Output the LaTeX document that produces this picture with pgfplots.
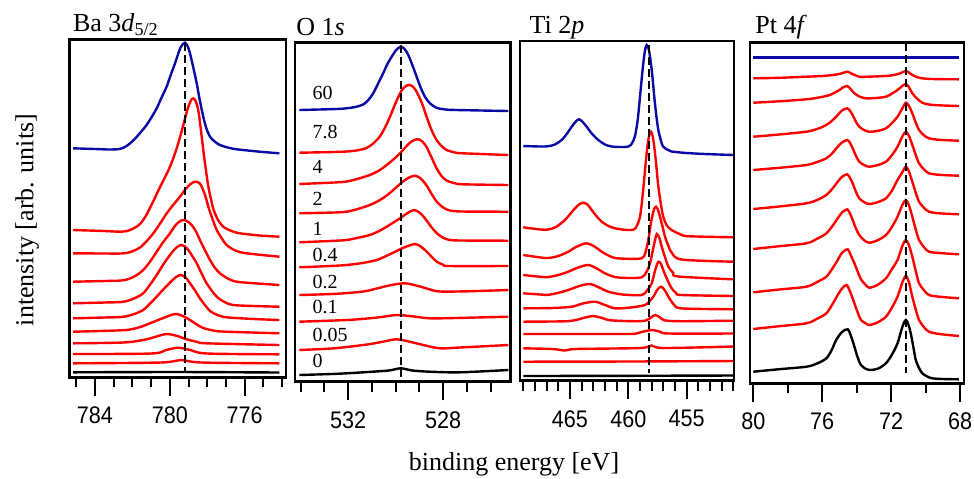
\documentclass[border=0pt]{standalone}
\usepackage{fontspec}
\setmainfont{Liberation Serif}
\newfontfamily\ticksf[FakeStretch=0.9]{Liberation Sans}
\usepackage{pgfplots}
\pgfplotsset{compat=1.18}
\definecolor{navy}{RGB}{10,10,165}
\pgfplotsset{panel/.style={
  scale only axis, x dir=reverse, y dir=reverse,
  axis line style={line width=1.3pt},
  ytick=\empty, xtick pos=bottom, tick align=outside,
  major tick length=9.25pt, minor tick length=5pt,
  tick style={line width=1pt, black},
  xticklabel style={font=\ticksf\fontsize{12}{12}\selectfont, yshift=-2pt},
  /pgf/number format/assume math mode=true,
  /pgf/number format/1000 sep={},
  every axis plot/.append style={line width=1.2pt, smooth, no markers},
}}
\begin{document}
\begin{tikzpicture}
\useasboundingbox (0,0) rectangle (487pt,-239pt);
% ---------------- Ba 3d5/2
\begin{axis}[panel, at={(34.65pt,-188.65pt)}, anchor=south west,
  width=108.35pt, height=169pt,
  xmin=773.79, xmax=785.37, ymin=39.3, ymax=377.3,
  xtick={784,780,776}, minor xtick={774,775,...,785}]
\addplot[navy] coordinates {(785.16,148.3) (784.0,149.0) (783.2,149.5) (782.7,149) (782.4,147) (782.1,143) (781.8,137.5) (781.5,131) (781.24,125) (781.0,118) (780.7,108.3) (780.45,98) (780.17,86.7) (779.95,75) (779.72,63.3) (779.5,51) (779.36,45.5) (779.19,42.7) (779.05,46) (778.92,53.3) (778.75,67) (778.56,83.3) (778.4,100) (778.21,116.7) (778.05,128) (777.85,136.7) (777.6,141.5) (777.32,145) (776.9,147.5) (776.42,149.3) (775.18,151.7) (774.14,153.3)};
\addplot[red] coordinates {(785.16,230) (783.5,231) (782.6,231.7) (782.2,230.5) (781.9,228) (781.59,224) (781.3,216.5) (781.06,208) (780.8,198) (780.52,187) (780.25,177) (779.99,166.7) (779.75,155) (779.55,143.3) (779.35,130) (779.19,119) (779.05,109) (778.92,102.5) (778.82,99) (778.74,98.3) (778.62,101) (778.48,110) (778.35,128) (778.21,150) (778.07,170) (777.94,186.7) (777.8,199) (777.67,209) (777.45,219) (777.14,226.7) (776.7,231) (776.25,233.3) (775.2,235.5) (774.14,236.7)};
\addplot[red] coordinates {(785.16,253.3) (783.5,253.5) (782.6,253.5) (782.2,252.5) (781.9,250.5) (781.59,247.5) (781.25,241.5) (780.88,233.3) (780.5,223) (780.17,213.5) (779.8,204.5) (779.45,196.5) (779.15,189) (778.92,184.5) (778.72,182) (778.56,181.7) (778.42,183) (778.29,186.7) (778.1,196) (777.94,206.7) (777.7,220) (777.49,230) (777.2,239) (776.96,245) (776.5,250.5) (775.89,253.3) (774.14,256.7)};
\addplot[red] coordinates {(785.16,281.7) (783.5,281) (782.6,280.5) (782.2,279) (781.8,275.5) (781.42,270) (781.05,261.5) (780.7,251.7) (780.35,242) (779.99,233.3) (779.75,226.5) (779.55,222.5) (779.4,220.5) (779.24,220) (779.05,221.5) (778.83,225) (778.6,231.5) (778.39,240) (778.1,251) (777.85,260) (777.6,267.5) (777.32,273.3) (776.9,278.5) (776.42,281.7) (775.3,283.5) (774.14,285)};
\addplot[red] coordinates {(785.16,303.3) (783.5,302.5) (782.6,302) (782.2,300.5) (781.8,297.5) (781.42,293.3) (781.05,284.5) (780.70,275) (780.35,264.5) (779.99,255) (779.8,250.5) (779.63,247.3) (779.5,245.7) (779.36,245) (779.2,246.3) (779.01,250) (778.8,256) (778.56,263.3) (778.3,273.5) (778.03,283.3) (777.75,290.8) (777.49,296.7) (777.1,301.8) (776.6,305) (775.5,306) (774.14,306.7)};
\addplot[red] coordinates {(785.16,318.3) (783.5,317.5) (782.6,317) (782.2,315.7) (781.8,313.3) (781.42,310) (781.05,303.5) (780.70,296.7) (780.35,289.5) (779.99,282.7) (779.7,277.5) (779.42,275) (779.15,277.5) (778.92,283.3) (778.65,290.5) (778.39,298.3) (778.1,305.5) (777.85,311) (777.45,315) (776.96,317.3) (775.5,319) (774.14,320)};
\addplot[red] coordinates {(785.16,331.7) (782.6,330.3) (782.0,329) (781.5,326.5) (781.06,323.3) (780.6,319.8) (780.17,316.7) (779.9,314.8) (779.63,314) (779.3,316) (778.92,320) (778.55,324.5) (778.21,328) (777.6,330.8) (776.96,331.7) (774.14,333.3)};
\addplot[red] coordinates {(785.16,343.3) (782.5,342.5) (781.42,340) (780.8,337) (780.17,334) (779.6,336) (779.1,339.3) (778.5,342) (778.03,343.3) (774.14,345)};
\addplot[red] coordinates {(785.16,354) (781.0,353.5) (780.2,350) (779.55,347.7) (778.9,350) (778.0,353.5) (774.14,354.3)};
\addplot[red] coordinates {(785.16,363.3) (780.5,362.5) (779.4,360) (778.3,362.5) (774.14,363.3)};
\addplot[black] coordinates {(785.16,372.3) (779.5,372.0) (774.14,372.5)};
\addplot[black, sharp plot, line width=1pt, dash pattern=on 4pt off 2pt] coordinates {(779.19,43) (779.19,372)};
\end{axis}
% ---------------- O 1s
\begin{axis}[panel, at={(147.5pt,-190.85pt)}, anchor=south west,
  width=107.85pt, height=169.7pt,
  xmin=525.16, xmax=534.24, ymin=42.3, ymax=381.7,
  xtick={532,528}, minor xtick={526,527,...,534}]
\addplot[navy] coordinates {(534.06,110) (532.5,109) (532.07,108.3) (531.7,107) (531.37,104.5) (531.15,100) (530.95,93.3) (530.75,84) (530.53,73.3) (530.35,64) (530.17,56.7) (529.98,50) (529.79,46.7) (529.63,49) (529.47,55) (529.3,65) (529.12,76.7) (528.95,87.5) (528.77,96.7) (528.55,103.5) (528.28,107.8) (527.9,109.5) (527.44,110) (525.26,111)};
\addplot[red] coordinates {(534.06,152.7) (532.6,152) (532.07,151.5) (531.6,150.3) (531.23,148) (530.95,143.5) (530.67,136.5) (530.45,127.5) (530.24,116.7) (530.05,105.5) (529.89,97) (529.75,90.5) (529.61,86.7) (529.5,85.2) (529.40,85) (529.26,87) (529.12,91.7) (528.9,103) (528.70,116.7) (528.5,129.5) (528.28,140) (528.05,146.5) (527.86,150) (527.5,152.5) (527.16,153.3) (525.26,155)};
\addplot[red] coordinates {(534.06,184) (532.6,182.5) (532.07,181.5) (531.6,178.8) (531.09,175) (530.7,170.5) (530.38,165) (530.1,159.5) (529.82,153.3) (529.6,147.5) (529.40,142.7) (529.22,140) (529.05,139.3) (528.88,141.5) (528.70,147) (528.5,157) (528.28,168.3) (528.07,176) (527.86,180.5) (527.5,183.3) (527.16,184.3) (525.26,185)};
\addplot[red] coordinates {(534.06,213.3) (532.6,212.5) (532.07,211.7) (531.6,209) (531.09,205) (530.7,200.5) (530.38,195.5) (530.1,190) (529.82,184) (529.5,178.3) (529.19,175.7) (528.95,178.5) (528.70,185.5) (528.5,193.5) (528.28,201.5) (528.0,207.5) (527.72,210.5) (527.2,211.5) (525.26,211.7)};
\addplot[red] coordinates {(534.06,242.3) (532.6,240.8) (532.07,240) (531.6,237.8) (531.09,235) (530.7,231) (530.38,226.7) (530.1,222.5) (529.82,218.3) (529.5,213) (529.22,210) (528.95,213.5) (528.70,220.5) (528.5,227) (528.28,233) (528.0,237.8) (527.72,240) (527.2,240.5) (525.26,240.7)};
\addplot[red] coordinates {(534.06,267.3) (532.6,265.8) (532.07,265) (531.4,263) (530.80,260) (530.45,256.5) (530.11,252.7) (529.65,247.5) (529.19,244) (528.95,246.5) (528.70,251.5) (528.5,256.5) (528.28,261.5) (528.0,264.8) (527.72,266) (525.26,266)};
\addplot[red] coordinates {(534.06,295) (532.5,293.8) (531.37,291.5) (530.8,288.5) (530.24,285.3) (529.61,283.3) (528.98,286.5) (528.55,289.5) (528.14,291.5) (527,291.3) (525.26,290)};
\addplot[red] coordinates {(534.06,321.7) (532.07,320) (531.2,318.5) (530.6,317) (529.96,315) (529.3,316.3) (528.56,318.3) (527.5,318) (525.26,316.7)};
\addplot[red] coordinates {(534.06,350) (532.6,348.3) (531.37,345) (530.9,343.3) (530.5,341.5) (529.96,339.3) (529.4,341.8) (528.84,345) (528.14,348.3) (527.3,347.5) (525.26,345)};
\addplot[black] coordinates {(534.06,375) (532.5,373.8) (531.37,372.3) (530.3,370.5) (529.79,368.3) (529.3,370.5) (528.56,371.7) (527.3,372.3) (525.26,370)};
\addplot[black, sharp plot, line width=1pt, dash pattern=on 4pt off 2pt] coordinates {(529.79,45) (529.79,376.7)};
\end{axis}
% ---------------- Ti 2p
\begin{axis}[panel, at={(260pt,-190.35pt)}, anchor=south west,
  width=107pt, height=169.85pt,
  xmin=450.95, xmax=469.28, ymin=41, ymax=380.7,
  xtick={465,460,455}, minor xtick={451,452,...,469}]
\addplot[navy] coordinates {(469.0,146) (467.5,146.5) (466.86,146.2) (466.3,144.5) (465.71,140) (465.25,133.5) (464.85,126.7) (464.5,121.5) (464.23,119.3) (463.95,121.5) (463.57,126.7) (463.1,134) (462.57,140) (462.0,144.5) (461.43,146.5) (460.7,147) (460.0,146.5) (459.7,143.5) (459.43,136) (459.2,120) (459.0,96.7) (458.85,78) (458.72,63.3) (458.57,50) (458.43,45) (458.28,48) (458.14,56.7) (457.95,75) (457.78,96.7) (457.6,116) (457.43,130) (457.2,141) (457.01,146.7) (456.6,150) (456.29,151.5) (455,153) (453.43,154) (451.0,155)};
\addplot[red] coordinates {(469.0,227.3) (467.5,229.5) (466.86,229.5) (466.2,227) (465.43,220) (464.95,213.5) (464.57,208.3) (464.2,204.3) (463.86,202.7) (463.5,204.5) (463.14,210) (462.7,216.5) (462.28,221.7) (461.7,226) (461.14,228.3) (460.3,229.8) (459.58,229.7) (459.3,226.5) (459.0,216.7) (458.8,198) (458.57,170) (458.42,152) (458.29,140) (458.17,133.5) (458.06,131.7) (457.92,136) (457.78,146.7) (457.6,166) (457.43,186.7) (457.2,205) (457.01,216.7) (456.7,225.5) (456.29,230) (455.6,234) (454.86,236.2) (451.0,237.3)};
\addplot[red] coordinates {(469.0,255) (467.5,257.5) (466.86,258) (466.0,256) (465.15,251.7) (464.4,246.5) (463.57,243.3) (462.9,246.5) (462.28,251.7) (461.7,255.5) (461.14,258) (460,258.8) (458.86,258.3) (458.55,253) (458.29,240) (458.05,222) (457.86,211.7) (457.75,208) (457.63,206.7) (457.47,209.5) (457.29,216.7) (457.05,227.5) (456.86,236.7) (456.55,246.5) (456.29,252.5) (455.43,259.5) (451.0,261.7)};
\addplot[red] coordinates {(469.0,275) (467.5,276.8) (466.86,277) (466.0,275) (465.15,271.7) (464.3,267.5) (463.43,265) (462.7,268.5) (462.0,273.3) (461.14,277) (460,278) (458.86,277.3) (458.45,272) (458.14,263.3) (457.9,250) (457.71,240) (457.57,234) (457.35,237.5) (457.14,246.7) (456.85,257.5) (456.57,266.7) (456.15,273) (455.71,276.5) (451.0,279.3)};
\addplot[red] coordinates {(469.0,293.3) (467.5,294.5) (466.86,294.8) (466.0,292.8) (465.15,290) (464.2,286) (463.29,284) (462.5,287.5) (461.72,291.7) (460.5,294.5) (458.86,295) (458.4,290.5) (458.0,283.3) (457.7,270) (457.43,261.7) (457.2,264) (457.01,270) (456.65,280) (456.29,288.3) (455.9,293) (455.43,295) (451.0,296)};
\addplot[red] coordinates {(469.0,308.3) (466.5,308) (464.85,306.7) (463.9,303.5) (462.86,301.7) (462.0,305) (461.14,308.3) (459.8,307.5) (458.57,305) (458.2,301.5) (457.86,296.7) (457.5,289.5) (457.20,286.7) (456.9,290) (456.57,296.7) (456.25,302.5) (456.0,306) (455.3,308.5) (451.0,309.3)};
\addplot[red] coordinates {(469.0,321.7) (465.5,321.3) (464.5,320) (463.7,317.5) (463.0,316) (462.3,317.8) (461.5,320.3) (459.5,321.2) (458.5,320.5) (458.0,317) (457.7,315) (457.3,317.3) (456.9,320.3) (455.5,321.2) (451.0,320.7)};
\addplot[red] coordinates {(469.0,334) (461,334) (459.5,333.8) (458.7,331.5) (457.9,330) (457.2,332) (456.5,333.5) (451.0,333.5)};
\addplot[red] coordinates {(469.0,348.3) (466.5,349) (465.4,350.5) (464.5,349) (459,348) (458.0,345.5) (457,348) (451,346.5)};
\addplot[red] coordinates {(469.0,361.7) (460,361.5) (451.0,361)};
\addplot[black] coordinates {(469.0,376) (460,375.8) (451.0,375.5)};
\addplot[black, sharp plot, line width=1pt, dash pattern=on 4pt off 2pt] coordinates {(458.23,45) (458.23,373)};
\end{axis}
% ---------------- Pt 4f
\begin{axis}[panel, at={(375pt,-191.65pt)}, anchor=south west,
  width=107pt, height=170.3pt,
  xmin=67.77, xmax=80.19, ymin=42.7, ymax=383.3,
  xtick={80,76,72,68}, minor xtick={78,74,70}]
\addplot[navy] coordinates {(80.0,57.3) (74,57.3) (68.07,57.3)};
\addplot[red] coordinates {(80.0,78.3) (78.5,77.8) (76.92,76.7) (76.0,76) (75.38,75) (74.9,73.5) (74.55,71.7) (74.25,74) (73.85,76.7) (73.5,76.8) (72.11,75.7) (71.5,73.5) (71.15,71) (70.85,74) (70.57,76.7) (70.2,78.3) (69.61,79) (68.07,79.3)};
\addplot[red] coordinates {(80.0,102.7) (78.5,101.3) (76.92,99.3) (76.2,97.5) (75.57,95) (75.0,90) (74.8,87.5) (74.55,86) (74.35,89) (74.13,93.3) (73.8,96.8) (73.46,98.3) (72.9,98) (72.30,96.7) (71.9,93) (71.63,90) (71.35,86) (71.15,84) (70.97,87) (70.77,93.3) (70.5,98.5) (70.19,102.7) (69.8,104.5) (69.23,105.3) (68.07,106)};
\addplot[red] coordinates {(80.0,136.7) (78.5,134.5) (76.92,131.7) (76.45,129.8) (75.96,126.7) (75.55,122.5) (75.19,116.7) (74.85,110.5) (74.55,108.3) (74.4,110.5) (74.23,115) (74.05,121.5) (73.85,126.7) (73.55,130.2) (73.27,131.7) (72.8,131) (72.30,128.3) (71.95,123) (71.63,116.7) (71.35,108.5) (71.15,102.7) (70.97,105.8) (70.77,113.3) (70.57,122.5) (70.38,130) (70.1,135.2) (69.80,138.3) (69.2,139.8) (68.07,140.7)};
\addplot[red] coordinates {(80.0,170) (78.5,167.8) (76.92,165) (76.3,162) (75.76,158.3) (75.4,153) (75.10,146.7) (74.85,142.5) (74.55,140) (74.4,142.5) (74.23,148.3) (74.05,155.5) (73.85,161.7) (73.55,165.2) (73.27,166.7) (72.8,165.2) (72.30,161.7) (71.95,155) (71.63,146.7) (71.35,136.5) (71.15,131.7) (70.97,135.7) (70.77,145) (70.57,155) (70.38,163.3) (70.1,169.3) (69.80,173.3) (69.2,174.8) (68.07,175.7)};
\addplot[red] coordinates {(80.0,209) (78.5,206.5) (76.92,203.3) (76.3,200) (75.76,195) (75.4,188.5) (75.10,181.7) (74.85,176.8) (74.55,174.3) (74.4,177.5) (74.23,183.3) (74.05,191.5) (73.85,198.3) (73.55,202.3) (73.27,204) (72.8,202.3) (72.30,198.3) (71.95,190.5) (71.63,180) (71.35,172.2) (71.15,166.7) (70.97,171.2) (70.77,181.7) (70.57,192.8) (70.38,201.7) (70.1,207.7) (69.80,211.7) (69.2,213.3) (68.07,214.3)};
\addplot[red] coordinates {(80.0,249) (78.5,246.2) (76.92,243.3) (76.3,238.8) (75.76,233.3) (75.4,225.8) (75.10,218.3) (74.85,212.5) (74.55,209.3) (74.4,213) (74.23,220) (74.05,228.2) (73.85,235) (73.55,240.4) (73.27,242.7) (72.8,240.4) (72.30,235) (71.95,226.8) (71.63,216.7) (71.35,205) (71.15,200) (70.97,205) (70.77,216.7) (70.57,229.5) (70.38,240) (70.1,247) (69.80,251.7) (69.2,253) (68.07,254.3)};
\addplot[red] coordinates {(80.0,292.3) (78.5,289.5) (76.92,286.7) (76.3,282) (75.76,276.7) (75.4,268.3) (75.10,260) (74.85,252.8) (74.52,249.3) (74.35,255) (74.13,263.3) (74.0,269) (73.75,279.3) (73.5,284.5) (73.27,287.7) (72.8,285) (72.30,278.3) (71.95,269) (71.63,260) (71.35,246) (71.15,240) (70.97,245) (70.77,256.7) (70.57,271) (70.38,283.3) (70.1,290) (69.80,295) (69.2,296.7) (68.07,298.3)};
\addplot[red] coordinates {(80.0,329) (78.5,326.2) (76.92,323.3) (76.3,318.8) (75.76,313.3) (75.4,304) (75.10,295) (74.85,288.5) (74.58,285) (74.35,293) (74.13,303.3) (73.95,312) (73.75,320) (73.5,323) (73.27,325) (72.8,322.5) (72.30,316.7) (71.95,307.5) (71.63,296.7) (71.35,282.5) (71.15,276) (70.97,282) (70.77,296.7) (70.57,309.5) (70.38,320) (70.1,327) (69.80,331.7) (69.2,334) (68.07,336)};
\addplot[black] coordinates {(80.0,371.7) (78.5,369.2) (76.92,366.7) (76.3,363.5) (75.76,358.3) (75.45,350) (75.19,340) (74.85,332) (74.52,329.3) (74.33,336) (74.13,346.7) (73.95,357) (73.75,365) (73.45,369) (73.17,370) (72.75,368.5) (72.30,363.3) (71.95,354.5) (71.63,343.3) (71.35,327) (71.15,320) (71.0,324.5) (70.86,333.3) (70.7,348) (70.57,360) (70.38,368) (70.19,373.3) (69.9,376.5) (69.61,378.3) (69.0,379) (68.07,379.3)};
\addplot[black, sharp plot, line width=1pt, dash pattern=on 4pt off 2pt] coordinates {(71.15,43.3) (71.15,373)};
\end{axis}
% ---------------- texts
\begin{scope}[every node/.style={inner sep=0pt, font=\fontsize{13}{15}\selectfont}]
\node[anchor=base west] at (36.35pt,-15.85pt) {Ba 3\textit{d}\textsubscript{5/2}};
\node[anchor=base west] at (148pt,-17.5pt) {O 1\textit{s}};
\node[anchor=base west] at (264.65pt,-16.65pt) {Ti 2\textit{p}};
\node[anchor=base west] at (377.5pt,-16.75pt) {Pt 4\textit{f}};
\node[anchor=base, rotate=90] at (16.65pt,-110pt) {intensity [arb. units]};
\node[anchor=base] at (257pt,-235pt) {binding energy [eV]};
\end{scope}
\begin{scope}[every node/.style={inner sep=0pt, anchor=base west, font=\fontsize{10}{12}\selectfont}]
\node at (156.15pt,-49.65pt) {60};
\node at (156.15pt,-69.15pt) {7.8};
\node at (156.15pt,-86.65pt) {4};
\node at (156.15pt,-102.85pt) {2};
\node at (156.15pt,-117.5pt) {1};
\node at (156.15pt,-130.85pt) {0.4};
\node at (156.15pt,-144.15pt) {0.2};
\node at (156.15pt,-156.65pt) {0.1};
\node at (156.15pt,-170.85pt) {0.05};
\node at (156.15pt,-183.65pt) {0};
\end{scope}
\end{tikzpicture}
\end{document}
